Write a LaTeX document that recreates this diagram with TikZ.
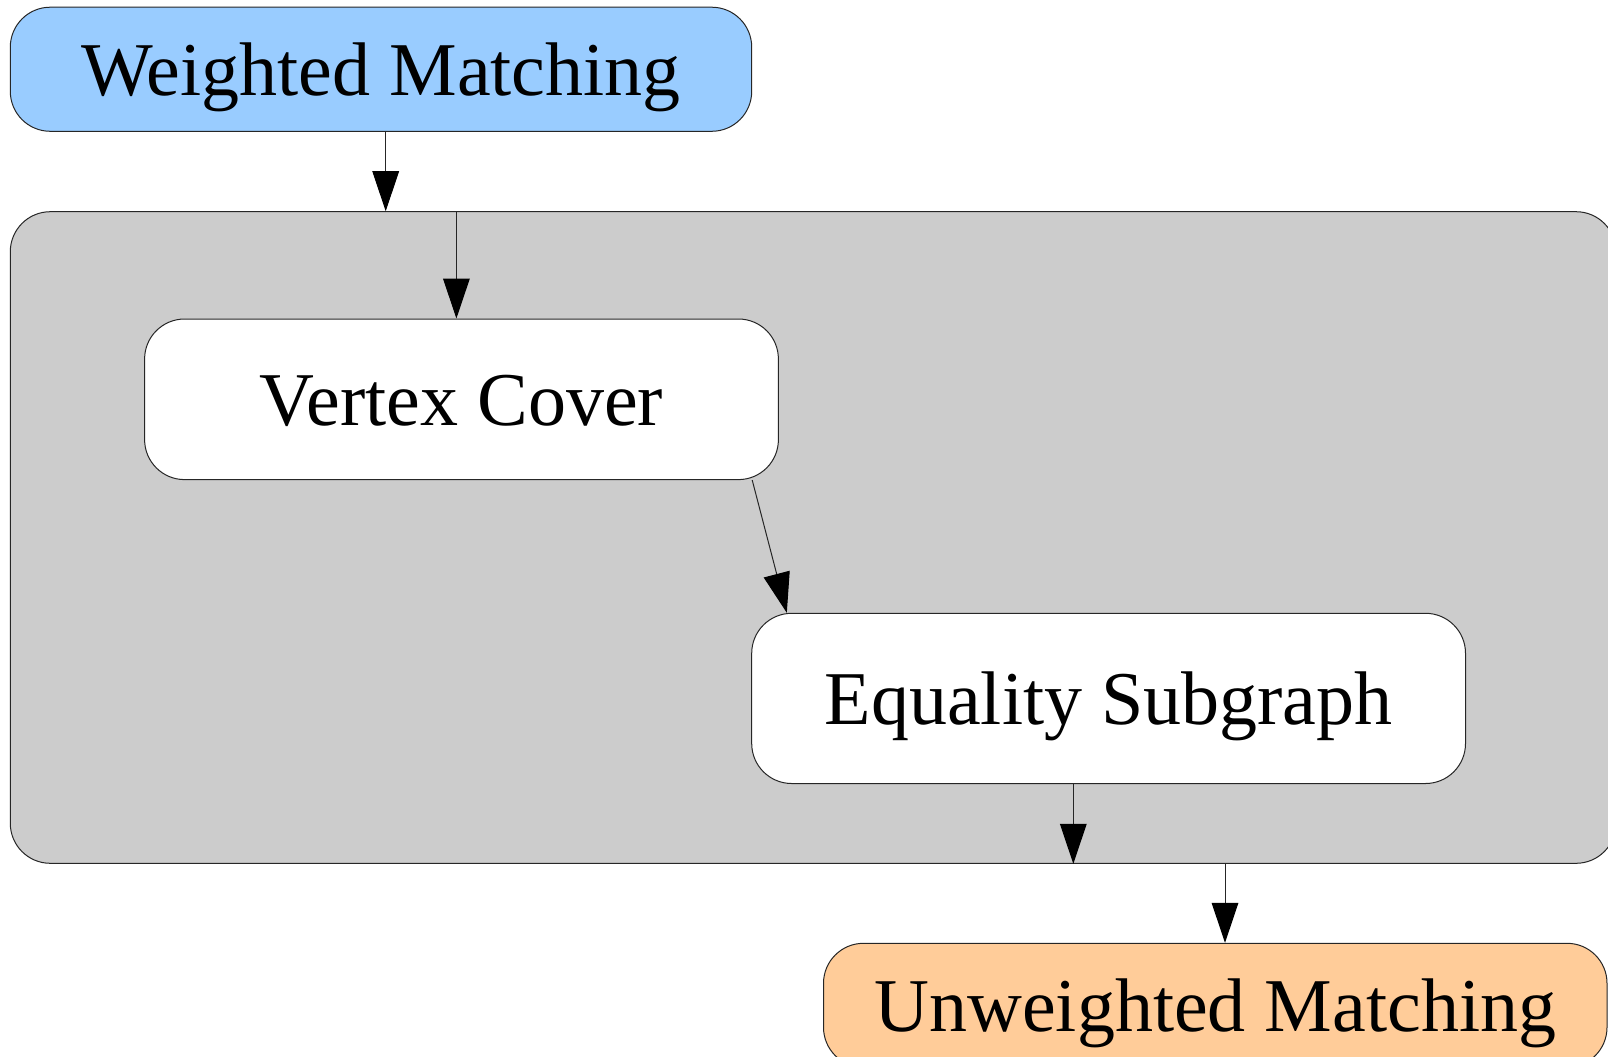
\documentclass[tikz,border=0pt]{standalone}
\usepackage{fontspec}
\setmainfont{Liberation Serif}
\usetikzlibrary{arrows.meta,calc}

\definecolor{wmblue}{HTML}{99CCFF}
\definecolor{umorange}{HTML}{FFCC99}
\definecolor{clgray}{HTML}{CCCCCC}

\tikzset{
  box/.style={draw=black!85, line width=0.75pt, rounded corners=30pt,
    inner sep=0pt, text depth=0pt, text height=39pt,
    font=\fontsize{57}{60}\selectfont},
  link/.style={draw=black!85, line width=0.75pt,
    -{Triangle[length=30pt,width=20pt,fill=black,color=black]}},
}

\begin{document}
\begin{tikzpicture}[x=0.75pt,y=-0.75pt]
  \useasboundingbox (0,0) rectangle (1608,1056);
  \clip (0,0) rectangle (1608,1056);

  % group frame
  \node[box, fill=clgray, minimum width=1605.7*0.75pt, minimum height=651.6*0.75pt]
    (cl) at (813.15,537.5) {};

  % end and start problems
  \node[box, fill=wmblue, minimum width=741.4*0.75pt, minimum height=124.1*0.75pt]
    (wm) at (381,69.25) {Weighted Matching};
  \node[box, fill=umorange, minimum width=783.5*0.75pt, minimum height=124*0.75pt]
    (um) at (1215.25,1005.3) {Unweighted Matching};

  % inner steps
  \node[box, fill=white, minimum width=633.8*0.75pt, minimum height=160.6*0.75pt]
    (vc) at (461.5,399.3) {Vertex Cover};
  \node[box, fill=white, minimum width=713.8*0.75pt, minimum height=170.2*0.75pt]
    (es) at (1108.6,698.4) {Equality Subgraph};

  % connectors
  \draw[link] ([xshift=4.7*0.75pt]wm.south) -- ([xshift=4.7*0.75pt]wm.south |- cl.north);
  \draw[link] ([xshift=-5.1*0.75pt]vc.north |- cl.north) -- ([xshift=-5.1*0.75pt]vc.north);
  \draw[link] ([xshift=-26.7*0.75pt]vc.south east) -- ([xshift=35.6*0.75pt]es.north west);
  \draw[link] ([xshift=-35.3*0.75pt]es.south) -- ([xshift=-35.3*0.75pt]es.south |- cl.south);
  \draw[link] ([xshift=9.75*0.75pt]um.north |- cl.south) -- ([xshift=9.75*0.75pt]um.north);
\end{tikzpicture}
\end{document}
